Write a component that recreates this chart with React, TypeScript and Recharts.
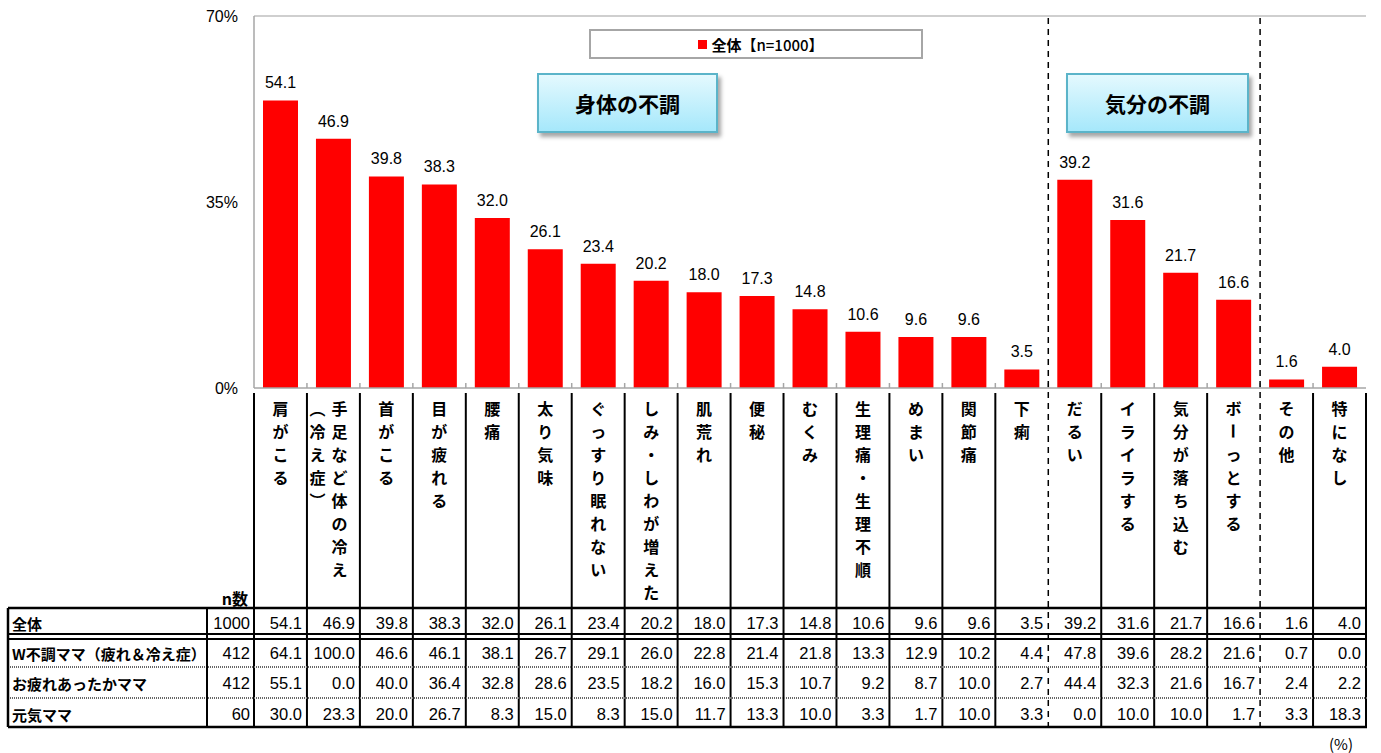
import { BarChart, Bar, XAxis, YAxis, LabelList, ReferenceLine } from "recharts";

// categories (vertical labels, "\n" = second column to the left)
const categories = [
  "肩がこる",
  "手足など体の冷え\n︵冷え症︶",
  "首がこる",
  "目が疲れる",
  "腰痛",
  "太り気味",
  "ぐっすり眠れない",
  "しみ・しわが増えた",
  "肌荒れ",
  "便秘",
  "むくみ",
  "生理痛・生理不順",
  "めまい",
  "関節痛",
  "下痢",
  "だるい",
  "イライラする",
  "気分が落ち込む",
  "ボーっとする",
  "その他",
  "特になし",
];

const overall = [54.1, 46.9, 39.8, 38.3, 32.0, 26.1, 23.4, 20.2, 18.0, 17.3, 14.8, 10.6, 9.6, 9.6, 3.5, 39.2, 31.6, 21.7, 16.6, 1.6, 4.0];
const wMama = [64.1, 100.0, 46.6, 46.1, 38.1, 26.7, 29.1, 26.0, 22.8, 21.4, 21.8, 13.3, 12.9, 10.2, 4.4, 47.8, 39.6, 28.2, 21.6, 0.7, 0.0];
const tiredMama = [55.1, 0.0, 40.0, 36.4, 32.8, 28.6, 23.5, 18.2, 16.0, 15.3, 10.7, 9.2, 8.7, 10.0, 2.7, 44.4, 32.3, 21.6, 16.7, 2.4, 2.2];
const genkiMama = [30.0, 23.3, 20.0, 26.7, 8.3, 15.0, 8.3, 15.0, 11.7, 13.3, 10.0, 3.3, 1.7, 10.0, 3.3, 0.0, 10.0, 10.0, 1.7, 3.3, 18.3];

const rowLabels = ["全体", "W不調ママ（疲れ＆冷え症）", "お疲れあったかママ", "元気ママ"];
const rowN = [1000, 412, 412, 60];
const rowValues = [overall, wMama, tiredMama, genkiMama];
const yTicks = [0, 35, 70];
const dashedBefore = [15, 19];

const data = categories.map((c, i) => ({ name: c, overall: overall[i] }));

// layout
const W = 1381;
const H = 753;
const PLOT_LEFT = 254;
const PLOT_RIGHT = 1366;
const PLOT_TOP = 16;
const PLOT_BOTTOM = 388;
const BAND = (PLOT_RIGHT - PLOT_LEFT) / categories.length;
const ROW_Y = [623, 653, 683, 714];
const TABLE_TOP = 608;
const TABLE_BOTTOM = 727;
const LINE_TOP = 393;

const jp = '"Noto Sans CJK JP", "Noto Sans", sans-serif';
const num = '"Liberation Sans", Arial, sans-serif';

function VChars({ text, x }: { text: string; x: number }) {
  return (
    <g>
      {Array.from(text).map((ch, k) => {
        const cy = 408 + k * 23;
        return (
          <text
            key={k}
            x={x}
            y={cy}
            textAnchor="middle"
            dominantBaseline="central"
            fontFamily={jp}
            fontWeight={700}
            fontSize={16}
            fill="#000"
            transform={ch === "ー" ? `rotate(90 ${x} ${cy})` : undefined}
          >
            {ch}
          </text>
        );
      })}
    </g>
  );
}

function CatTick(props: any) {
  const { x, payload } = props;
  const i = payload.index;
  const left = x - BAND / 2;
  const right = x + BAND / 2;
  const cols = String(payload.value).split("\n");
  const dashed = dashedBefore.includes(i);
  return (
    <g>
      {/* small tick mark on the axis */}
      {i > 0 && <line x1={left} x2={left} y1={PLOT_BOTTOM - 5} y2={PLOT_BOTTOM} stroke="#a6a6a6" strokeWidth={1.5} />}
      {dashed ? (
        <line x1={left} x2={left} y1={PLOT_TOP + 2} y2={TABLE_BOTTOM} stroke="#000" strokeWidth={1.5} strokeDasharray="6 5" />
      ) : (
        <line x1={left} x2={left} y1={LINE_TOP} y2={TABLE_BOTTOM} stroke="#000" strokeWidth={2} />
      )}
      {i === categories.length - 1 && (
        <line x1={right} x2={right} y1={LINE_TOP} y2={TABLE_BOTTOM} stroke="#000" strokeWidth={2} />
      )}
      {cols[1] ? (
        <>
          <VChars text={cols[0]} x={x + 6} />
          <VChars text={cols[1]} x={x - 16} />
        </>
      ) : (
        <VChars text={cols[0]} x={x} />
      )}
      {rowValues.map((vals, r) => (
        <text
          key={r}
          x={right - 5}
          y={ROW_Y[r]}
          textAnchor="end"
          dominantBaseline="central"
          fontFamily={num}
          fontSize={16.5}
          fill="#000"
        >
          {vals[i].toFixed(1)}
        </text>
      ))}
    </g>
  );
}

function LegendBox() {
  return (
    <div
      style={{
        position: "absolute",
        left: 589,
        top: 29,
        width: 330,
        height: 26,
        border: "2px solid #a6a6a6",
        background: "#fff",
        display: "flex",
        alignItems: "center",
        justifyContent: "center",
        fontFamily: jp,
        fontSize: 15,
        color: "#000",
      }}
    >
      <span style={{ width: 9, height: 9, background: "#ff0000", marginRight: 4, marginLeft: 10 }} />
      <span style={{ fontWeight: 700 }}>全体</span>
      <span style={{ fontWeight: 500 }}>【n=1000】</span>
    </div>
  );
}

function GroupBox({ label, left, width }: { label: string; left: number; width: number }) {
  return (
    <div
      style={{
        position: "absolute",
        left,
        top: 73,
        width,
        height: 60,
        boxSizing: "border-box",
        border: "2px solid #5bb4c9",
        background: "linear-gradient(#e4f9fe, #a6e8fb)",
        boxShadow: "3px 4px 4px rgba(0,0,0,0.35)",
        display: "flex",
        alignItems: "center",
        justifyContent: "center",
        fontFamily: jp,
        fontWeight: 700,
        fontSize: 21,
        color: "#000",
      }}
    >
      {label}
    </div>
  );
}

export default function App() {
  return (
    <div style={{ position: "absolute", left: 0, top: 0, width: W, height: H, background: "#fff" }}>
      <BarChart
        width={W}
        height={H}
        data={data}
        margin={{ top: PLOT_TOP, right: W - PLOT_RIGHT, left: PLOT_LEFT - 60, bottom: 0 }}
        barCategoryGap="17%"
      >
        <YAxis
          width={60}
          domain={[0, 70]}
          ticks={yTicks}
          tickFormatter={(v: number) => `${v}%`}
          axisLine={{ stroke: "#a6a6a6", strokeWidth: 1.5 }}
          tickLine={false}
          tickMargin={10}
          tick={{ fill: "#000", fontSize: 16, fontFamily: num }}
        />
        <XAxis
          dataKey="name"
          height={H - PLOT_BOTTOM}
          interval={0}
          axisLine={{ stroke: "#a6a6a6", strokeWidth: 1.5 }}
          tickLine={false}
          tick={(p: any) => <CatTick {...p} />}
        />
        <ReferenceLine y={70} stroke="#bfbfbf" strokeWidth={1.5} />
        <Bar dataKey="overall" fill="#ff0000" isAnimationActive={false}>
          <LabelList
            dataKey="overall"
            position="top"
            offset={12}
            formatter={(v: any) => Number(v).toFixed(1)}
            style={{ fill: "#000", fontSize: 16, fontFamily: num }}
          />
        </Bar>
      </BarChart>

      <LegendBox />
      <GroupBox label="身体の不調" left={537} width={181} />
      <GroupBox label="気分の不調" left={1066} width={183} />

      {/* table frame and row labels */}
      <svg width={W} height={H} style={{ position: "absolute", left: 0, top: 0, pointerEvents: "none" }}>
        <line x1={8} x2={PLOT_RIGHT + 1} y1={TABLE_TOP} y2={TABLE_TOP} stroke="#000" strokeWidth={2.5} />
        <line x1={8} x2={PLOT_RIGHT + 1} y1={634} y2={634} stroke="#000" strokeWidth={2} />
        <line x1={8} x2={PLOT_RIGHT + 1} y1={639} y2={639} stroke="#000" strokeWidth={2} />
        <line x1={8} x2={PLOT_RIGHT + 1} y1={667} y2={667} stroke="#666" strokeWidth={2} strokeDasharray="1 1" />
        <line x1={8} x2={PLOT_RIGHT + 1} y1={698} y2={698} stroke="#666" strokeWidth={2} strokeDasharray="1 1" />
        <line x1={8} x2={PLOT_RIGHT + 1} y1={TABLE_BOTTOM} y2={TABLE_BOTTOM} stroke="#000" strokeWidth={2.5} />
        <line x1={8} x2={8} y1={TABLE_TOP} y2={TABLE_BOTTOM} stroke="#000" strokeWidth={2.5} />
        <line x1={207} x2={207} y1={TABLE_TOP} y2={TABLE_BOTTOM} stroke="#000" strokeWidth={2} />
        <text x={248} y={598} textAnchor="end" dominantBaseline="central" fontFamily={jp} fontWeight={700} fontSize={16}>
          n数
        </text>
        {rowLabels.map((l, r) => (
          <text key={l} x={12} y={ROW_Y[r]} dominantBaseline="central" fontFamily={jp} fontWeight={700} fontSize={15}>
            {l}
          </text>
        ))}
        {rowN.map((n, r) => (
          <text key={r} x={250} y={ROW_Y[r]} textAnchor="end" dominantBaseline="central" fontFamily={num} fontSize={16.5}>
            {n}
          </text>
        ))}
        <text x={1341} y={743} textAnchor="middle" dominantBaseline="central" fontFamily={jp} fontSize={15}>
          (%)
        </text>
      </svg>
    </div>
  );
}
